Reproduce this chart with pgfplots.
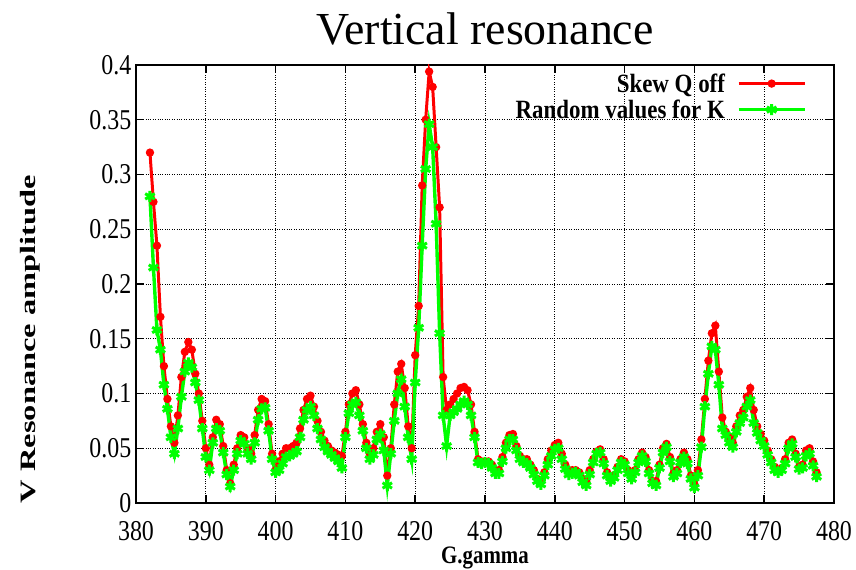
\documentclass[border=0pt]{standalone}
\usepackage{fontspec}
\setmainfont{Liberation Serif}
\usepackage{graphicx}
\usepackage{pgfplots}
\usepackage{pgfplotstable}
\pgfplotsset{compat=1.18}
\newcommand\vs[1]{\scalebox{1}[1.2]{#1}}
\pgfplotstableread{
x r g
382.0 0.320 0.280
382.5 0.275 0.215
383.0 0.235 0.158
383.5 0.170 0.140
384.0 0.125 0.108
384.5 0.095 0.086
385.0 0.070 0.060
385.5 0.055 0.045
386.0 0.080 0.068
386.5 0.115 0.097
387.0 0.138 0.120
387.5 0.147 0.128
388.0 0.140 0.124
388.5 0.118 0.110
389.0 0.100 0.094
389.5 0.075 0.068
390.0 0.050 0.042
390.5 0.035 0.030
391.0 0.060 0.055
391.5 0.076 0.068
392.0 0.072 0.066
392.5 0.052 0.046
393.0 0.030 0.026
393.5 0.018 0.015
394.0 0.035 0.030
394.5 0.050 0.045
395.0 0.062 0.057
395.5 0.060 0.054
396.0 0.050 0.045
396.5 0.045 0.040
397.0 0.062 0.055
397.5 0.085 0.076
398.0 0.095 0.086
398.5 0.093 0.087
399.0 0.072 0.066
399.5 0.045 0.040
400.0 0.030 0.028
400.5 0.038 0.030
401.0 0.045 0.036
401.5 0.050 0.042
402.0 0.050 0.043
402.5 0.052 0.045
403.0 0.055 0.047
403.5 0.068 0.060
404.0 0.085 0.076
404.5 0.095 0.085
405.0 0.098 0.088
405.5 0.088 0.080
406.0 0.075 0.068
406.5 0.065 0.058
407.0 0.057 0.051
407.5 0.052 0.047
408.0 0.048 0.044
408.5 0.046 0.041
409.0 0.044 0.038
409.5 0.043 0.032
410.0 0.065 0.060
410.5 0.090 0.082
411.0 0.100 0.090
411.5 0.103 0.092
412.0 0.090 0.080
412.5 0.072 0.066
413.0 0.055 0.050
413.5 0.045 0.040
414.0 0.050 0.044
414.5 0.065 0.058
415.0 0.072 0.063
415.5 0.060 0.048
416.0 0.025 0.016
416.5 0.050 0.045
417.0 0.090 0.075
417.5 0.120 0.100
418.0 0.127 0.113
418.5 0.105 0.088
419.0 0.070 0.060
419.5 0.050 0.040
420.0 0.135 0.110
420.5 0.180 0.160
421.0 0.290 0.235
421.5 0.350 0.305
422.0 0.394 0.346
422.5 0.380 0.325
423.0 0.325 0.255
423.5 0.270 0.155
424.0 0.115 0.080
424.5 0.085 0.052
425.0 0.090 0.080
425.5 0.095 0.083
426.0 0.100 0.086
426.5 0.105 0.090
427.0 0.106 0.093
427.5 0.103 0.090
428.0 0.090 0.080
428.5 0.065 0.060
429.0 0.040 0.037
429.5 0.038 0.036
430.0 0.038 0.037
430.5 0.038 0.036
431.0 0.035 0.032
431.5 0.030 0.027
432.0 0.030 0.027
432.5 0.042 0.038
433.0 0.055 0.050
433.5 0.062 0.058
434.0 0.063 0.058
434.5 0.052 0.048
435.0 0.043 0.040
435.5 0.040 0.037
436.0 0.040 0.036
436.5 0.035 0.032
437.0 0.030 0.026
437.5 0.022 0.020
438.0 0.020 0.017
438.5 0.028 0.025
439.0 0.040 0.035
439.5 0.048 0.043
440.0 0.053 0.049
440.5 0.055 0.050
441.0 0.045 0.040
441.5 0.035 0.031
442.0 0.030 0.026
442.5 0.030 0.027
443.0 0.030 0.028
443.5 0.028 0.025
444.0 0.022 0.019
444.5 0.020 0.016
445.0 0.030 0.026
445.5 0.040 0.037
446.0 0.047 0.045
446.5 0.049 0.046
447.0 0.040 0.036
447.5 0.028 0.025
448.0 0.022 0.020
448.5 0.025 0.023
449.0 0.033 0.030
449.5 0.040 0.037
450.0 0.038 0.035
450.5 0.030 0.027
451.0 0.025 0.022
451.5 0.030 0.028
452.0 0.040 0.037
452.5 0.046 0.043
453.0 0.042 0.038
453.5 0.030 0.027
454.0 0.020 0.018
454.5 0.020 0.016
455.0 0.035 0.032
455.5 0.050 0.046
456.0 0.054 0.051
456.5 0.042 0.038
457.0 0.027 0.024
457.5 0.030 0.027
458.0 0.040 0.037
458.5 0.046 0.042
459.0 0.040 0.036
459.5 0.025 0.022
460.0 0.017 0.014
460.5 0.030 0.025
461.0 0.058 0.051
461.5 0.095 0.088
462.0 0.130 0.118
462.5 0.155 0.143
463.0 0.162 0.140
463.5 0.120 0.108
464.0 0.078 0.068
464.5 0.065 0.062
465.0 0.060 0.055
465.5 0.055 0.051
466.0 0.070 0.065
466.5 0.080 0.073
467.0 0.085 0.078
467.5 0.097 0.088
468.0 0.105 0.094
468.5 0.085 0.073
469.0 0.070 0.064
469.5 0.063 0.057
470.0 0.057 0.052
470.5 0.048 0.044
471.0 0.040 0.037
471.5 0.033 0.030
472.0 0.030 0.028
472.5 0.032 0.030
473.0 0.040 0.036
473.5 0.055 0.050
474.0 0.058 0.054
474.5 0.045 0.042
475.0 0.033 0.031
475.5 0.035 0.032
476.0 0.048 0.043
476.5 0.050 0.045
477.0 0.038 0.034
477.5 0.028 0.024
}\data
\definecolor{gpred}{RGB}{255,0,0}
\definecolor{gpgreen}{RGB}{0,255,0}
\begin{document}
\begin{tikzpicture}
\useasboundingbox (-136bp,-67bp) rectangle (720bp,503bp);
\begin{axis}[
  at={(0,0)}, anchor=south west,
  scale only axis, width=698bp, height=438bp,
  xmin=380, xmax=480, ymin=0, ymax=0.4,
  xtick={380,390,400,410,420,430,440,450,460,470,480},
  xticklabels={\vs{380},\vs{390},\vs{400},\vs{410},\vs{420},\vs{430},\vs{440},\vs{450},\vs{460},\vs{470},\vs{480}},
  ytick={0,0.05,0.1,0.15,0.2,0.25,0.3,0.35,0.4},
  yticklabels={\vs{0},\vs{0.05},\vs{0.1},\vs{0.15},\vs{0.2},\vs{0.25},\vs{0.3},\vs{0.35},\vs{0.4}},
  tick label style={font=\fontsize{24}{24}\selectfont, inner sep=0.5bp},
  xticklabel shift=4bp,
  xticklabel style={anchor=north, yshift=-14bp},
  yticklabel style={xshift=-4bp},
  axis line style={line width=1.5pt},
  major tick length=8bp,
  tick style={line width=1.5pt, black},
  tick align=inside,
  grid=major,
  grid style={dotted, black, line width=0.7pt},
  title={Vertical resonance},
  title style={font=\fontsize{46}{46}\selectfont, at={(axis description cs:0.5,1)}, anchor=base, yshift=15bp},
  xlabel={\scalebox{1}[1.2]{G.gamma}},
  xlabel style={font=\bfseries\fontsize{21}{21}\selectfont, inner sep=0pt, at={(axis description cs:0.5,-0.126)}, anchor=center},
  ylabel={\scalebox{1.48}[1]{V Resonance amplitude}},
  ylabel style={font=\bfseries\fontsize{22}{22}\selectfont, at={(axis description cs:-0.152,0.374)}, anchor=center},
  legend style={at={(axis description cs:0.965,0.99)}, anchor=north east, draw=none, fill=none,
    font=\bfseries\fontsize{23}{23}\selectfont, row sep=2bp, column sep=10bp},
  legend cell align=right,
  legend plot pos=right,
  legend image code/.code={\draw[mark repeat=2,mark phase=2,#1] plot coordinates {(0bp,0bp)(33bp,0bp)(66bp,0bp)};},
]
\addplot[gpred, line width=3pt, mark=*, mark size=2.6pt] table[x=x,y=r]{\data};
\addlegendentry{\scalebox{1}[1.15]{Skew Q off}}
\addplot[gpgreen, line width=3.4pt, mark=asterisk, mark size=5.5pt, mark options={line width=3pt}] table[x=x,y=g]{\data};
\addlegendentry{\scalebox{1}[1.15]{Random values for K}}
\end{axis}
\end{tikzpicture}
\end{document}
